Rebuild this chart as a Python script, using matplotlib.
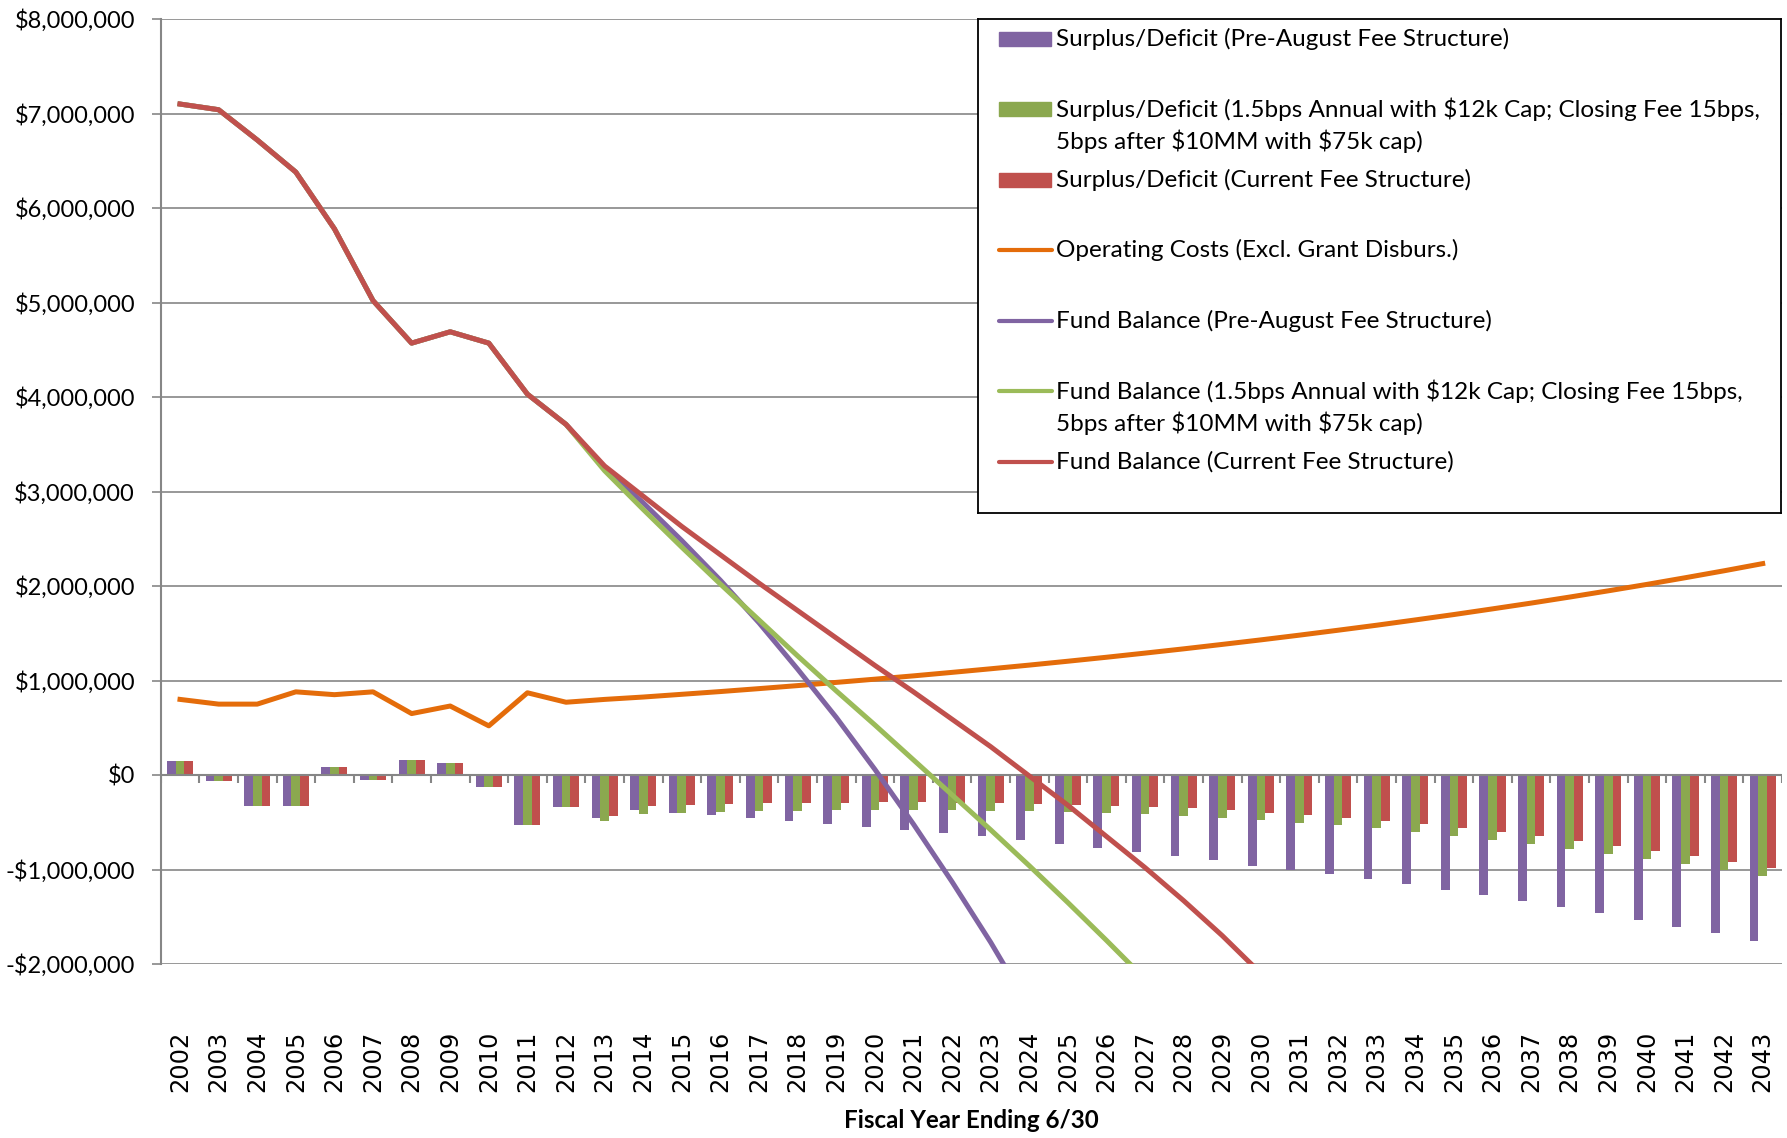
import numpy as np
import matplotlib
matplotlib.use("Agg")
import matplotlib.pyplot as plt
from matplotlib.patches import Rectangle
from matplotlib.ticker import FuncFormatter, MultipleLocator

# values in $ millions, fiscal years 2002-2043
years = list(range(2002, 2044))

surplus_pre = [0.145, -0.06, -0.325, -0.325, 0.08, -0.053, 0.155, 0.123, -0.124, -0.527, -0.336,
               -0.452, -0.367, -0.40, -0.42, -0.452, -0.484, -0.516, -0.548, -0.58, -0.611,
               -0.643, -0.686, -0.728, -0.77, -0.813, -0.855, -0.898, -0.96, -1.005, -1.046,
               -1.099, -1.152, -1.216, -1.269, -1.332, -1.396, -1.459, -1.534, -1.608, -1.671, -1.756]
surplus_new = [0.145, -0.06, -0.325, -0.325, 0.08, -0.053, 0.155, 0.123, -0.124, -0.527, -0.336,
               -0.484, -0.41, -0.40, -0.392, -0.378, -0.378, -0.367, -0.367, -0.367, -0.367,
               -0.378, -0.378, -0.389, -0.40, -0.41, -0.431, -0.452, -0.473, -0.505, -0.527,
               -0.558, -0.601, -0.643, -0.686, -0.728, -0.781, -0.834, -0.887, -0.94, -1.004, -1.067]
surplus_cur = [0.145, -0.06, -0.325, -0.325, 0.08, -0.053, 0.155, 0.123, -0.124, -0.527, -0.336,
               -0.431, -0.325, -0.314, -0.304, -0.293, -0.293, -0.293, -0.283, -0.283, -0.293,
               -0.293, -0.304, -0.314, -0.325, -0.336, -0.346, -0.367, -0.399, -0.42, -0.452,
               -0.484, -0.516, -0.558, -0.601, -0.643, -0.696, -0.749, -0.802, -0.855, -0.919, -0.982]

op_costs = [0.80, 0.75, 0.75, 0.88, 0.85, 0.88, 0.65, 0.73, 0.52, 0.87, 0.77,
            0.80, 0.825, 0.854, 0.883, 0.914, 0.946, 0.98, 1.014, 1.049, 1.086,
            1.124, 1.163, 1.204, 1.246, 1.29, 1.335, 1.382, 1.43, 1.48, 1.532,
            1.585, 1.641, 1.698, 1.758, 1.819, 1.883, 1.949, 2.017, 2.088, 2.161, 2.237]

fund_common = [7.10, 7.04, 6.72, 6.38, 5.78, 5.02, 4.57, 4.69, 4.57, 4.03, 3.71]
fund_pre = fund_common + [3.25, 2.88, 2.48, 2.06, 1.61, 1.12, 0.61, 0.06, -0.52, -1.13, -1.77, -2.46]
fund_new = fund_common + [3.22, 2.81, 2.41, 2.02, 1.64, 1.26, 0.89, 0.53, 0.16, -0.21, -0.58,
                          -0.96, -1.35, -1.75, -2.16]
fund_cur = fund_common + [3.27, 2.95, 2.63, 2.33, 2.03, 1.74, 1.45, 1.16, 0.88, 0.59, 0.30,
                          -0.01, -0.32, -0.65, -0.98, -1.33, -1.70, -2.10]

labels = [
    "Surplus/Deficit (Pre-August Fee Structure)",
    "Surplus/Deficit (1.5bps Annual with \\$12k Cap; Closing Fee 15bps,\n5bps after \\$10MM with \\$75k cap)",
    "Surplus/Deficit (Current Fee Structure)",
    "Operating Costs (Excl. Grant Disburs.)",
    "Fund Balance (Pre-August Fee Structure)",
    "Fund Balance (1.5bps Annual with \\$12k Cap; Closing Fee 15bps,\n5bps after \\$10MM with \\$75k cap)",
    "Fund Balance (Current Fee Structure)",
]

PURPLE = "#8064A2"
GREEN_BAR = "#8BA84F"
GREEN_LINE = "#9BBB59"
RED = "#C0504D"
ORANGE = "#E46C0A"
GRID = "#868686"

FONT = ["Lato", "DejaVu Sans"]

W, H = 1787, 1138
fig = plt.figure(figsize=(W / 100, H / 100), dpi=100)

L, R, T, B = 160.7, 1782, 19, 964
ax = fig.add_axes([L / W, (H - B) / H, (R - L) / W, (B - T) / H])

x = np.arange(len(years))
M = 1e6
bw = 0.225

def pad_series(vals):
    out = np.full(len(years), np.nan)
    out[:len(vals)] = vals
    return out * M

ax.bar(x - bw, np.array(surplus_pre) * M, bw, color=PURPLE, zorder=3)
ax.bar(x, np.array(surplus_new) * M, bw, color=GREEN_BAR, zorder=3)
ax.bar(x + bw, np.array(surplus_cur) * M, bw, color=RED, zorder=3)

lw = 3.6
ax.plot(x, np.array(op_costs) * M, color=ORANGE, lw=lw, zorder=5, solid_joinstyle="round")
ax.plot(x, pad_series(fund_pre), color=PURPLE, lw=lw, zorder=5, solid_joinstyle="round")
ax.plot(x, pad_series(fund_new), color=GREEN_LINE, lw=lw, zorder=5, solid_joinstyle="round")
ax.plot(x, pad_series(fund_cur), color=RED, lw=lw, zorder=6, solid_joinstyle="round")

ax.set_xlim(-0.5, len(years) - 0.5)
ax.set_ylim(-2 * M, 8 * M)

# horizontal axis sits at zero with boundary tick marks
ax.axhline(0, color=GRID, lw=1.5, zorder=4)
ax.vlines(np.arange(len(years) + 1) - 0.5, -0.08 * M, 0, color=GRID, lw=1.5, zorder=4)

ax.yaxis.set_major_locator(MultipleLocator(M))
ax.yaxis.set_major_formatter(FuncFormatter(
    lambda v, p: ("-$" if v < 0 else "$") + f"{abs(v):,.0f}"))
ax.grid(axis="y", color=GRID, lw=1.2, zorder=0)
ax.set_axisbelow(True)

for s in ["top", "right", "bottom"]:
    ax.spines[s].set_visible(False)
ax.spines["left"].set_color(GRID)
ax.spines["left"].set_linewidth(1.5)

ax.tick_params(axis="y", length=6.5, width=1.2, color=GRID, pad=12, labelsize=17)
for t in ax.get_yticklabels():
    t.set_family(FONT)

ax.set_xticks(x)
ax.set_xticklabels([str(y) for y in years], rotation=90, fontsize=17.4, family="DejaVu Sans")
ax.tick_params(axis="x", length=0, pad=48)

fig.text((L + R) / 2 / W, 1 - 1121 / H, "Fiscal Year Ending 6/30", ha="center", va="center",
         fontsize=17.4, fontweight="bold", family=FONT)

# legend drawn in pixel coordinates
lx0, lx1, ly0, ly1 = 978, 1781, 19, 513
lax = fig.add_axes([lx0 / W, (H - ly1) / H, (lx1 - lx0) / W, (ly1 - ly0) / H], zorder=10)
lax.set_xlim(lx0, lx1)
lax.set_ylim(ly1, ly0)
lax.set_xticks([])
lax.set_yticks([])
for s in lax.spines.values():
    s.set_color("black")
    s.set_linewidth(1.3)

entry_y = [39, 109, 180, 250, 320.5, 391, 461.5]
line_gap = 32.5
kinds = ["bar", "bar", "bar", "line", "line", "line", "line"]
colors = [PURPLE, GREEN_BAR, RED, ORANGE, PURPLE, GREEN_LINE, RED]
for lab, yy, kind, c in zip(labels, entry_y, kinds, colors):
    if kind == "bar":
        lax.add_patch(Rectangle((998.5, yy - 7.3), 52.5, 14.6, color=c))
    else:
        lax.plot([999, 1052], [yy, yy], color=c, lw=3, solid_capstyle="round")
    for i, part in enumerate(lab.split("\n")):
        lax.text(1056.5, yy + i * line_gap, part, ha="left", va="center",
                 fontsize=17.5, family=FONT)

fig.savefig("out.png", dpi=100)
